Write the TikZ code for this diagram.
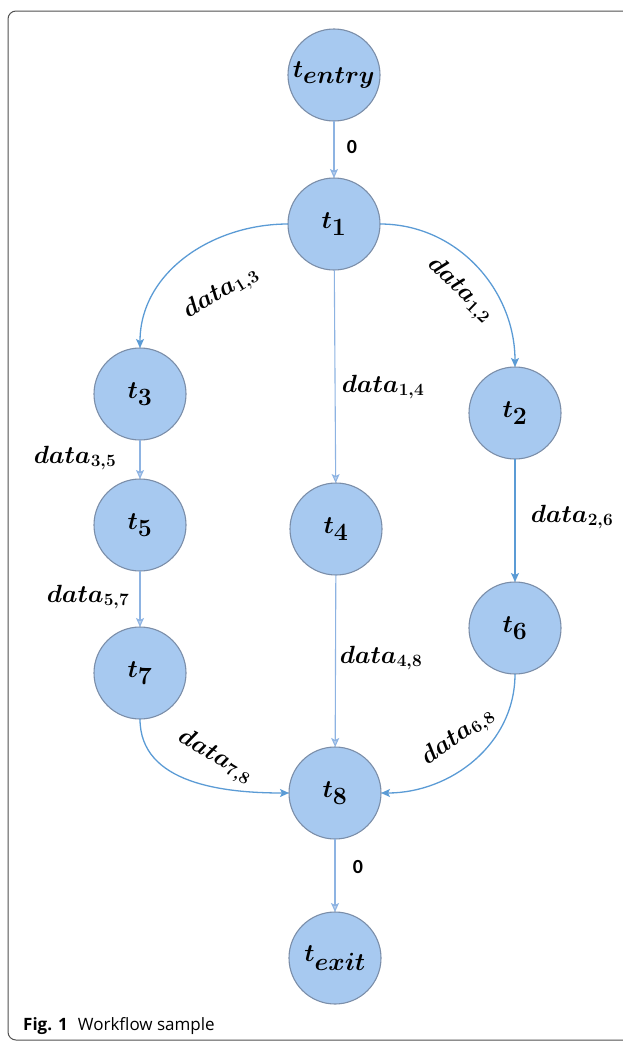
\documentclass[tikz,border=0pt]{standalone}
\usepackage{fontspec}
\newfontfamily\capfont{Open Sans}
\newfontfamily\numfont{Carlito}
\usetikzlibrary{arrows.meta}
\definecolor{nodefill}{HTML}{A7C9F0}
\definecolor{nodeedge}{HTML}{7B8EA9}
\definecolor{edgeblue}{HTML}{5B9BD5}
\definecolor{edgelight}{HTML}{8DB3E2}
\definecolor{framegray}{HTML}{505050}
\tikzset{
  task/.style={circle, fill=nodefill, draw=nodeedge, line width=1.1pt,
    minimum size=92pt, inner sep=0pt, outer sep=0pt,
    font=\fontsize{38}{38}\selectfont\boldmath},
  dlabel/.style={font=\fontsize{23}{23}\selectfont\boldmath, inner sep=0pt},
  zlabel/.style={font=\numfont\bfseries\fontsize{20}{20}\selectfont, inner sep=0pt},
  bluearrow/.style={draw=edgeblue, line width=1.3pt,
    -{Stealth[length=9pt,width=8pt,inset=2pt]}},
  lightarrow/.style={draw=edgelight, line width=1.1pt,
    -{Stealth[length=9pt,width=8pt,inset=2pt,fill=edgelight!60]}},
  frameline/.style={draw=framegray, line width=1pt, rounded corners=8pt}
}
\begin{document}
\begin{tikzpicture}[x=1pt,y=-1pt]
\useasboundingbox (0,0) rectangle (623,1044);
\draw[frameline] (640,11) -- (8,11) -- (8,1040) -- (640,1040);

\node[task] (entry) at (334,75) {$t_{entry}$};
\node[task] (t1) at (334,224) {$t_1$};
\node[task] (t3) at (140,394) {$t_3$};
\node[task] (t5) at (140,525) {$t_5$};
\node[task] (t7) at (140,673) {$t_7$};
\node[task] (t4) at (336,529) {$t_4$};
\node[task] (t2) at (515,413) {$t_2$};
\node[task] (t6) at (515,628) {$t_6$};
\node[task] (t8) at (335,793) {$t_8$};
\node[task] (exit) at (335,958) {$t_{exit}$};

\draw[lightarrow] (entry) -- (t1);
\draw[bluearrow] (t1.west) to[out=180,in=90] (t3.north);
\draw[bluearrow] (t1.east) to[out=0,in=90] (t2.north);
\draw[lightarrow] (t1) -- (t4);
\draw[lightarrow] (t3) -- (t5);
\draw[lightarrow] (t5) -- (t7);
\draw[bluearrow] (t2) -- (t6);
\draw[lightarrow] (t4) -- (t8);
\draw[bluearrow] (t7.south) to[out=-90,in=180] (t8.west);
\draw[bluearrow] (t6.south) to[out=-90,in=0] (t8.east);
\draw[lightarrow] (t8) -- (exit);

\node[zlabel] (z1) at (352,147) {0};
\node[zlabel] (z2) at (358,867) {0};
\node[dlabel, rotate=31] (d13) at (221,293) {$data_{1,3}$};
\node[dlabel, rotate=-44] (d12) at (460,290) {$data_{1,2}$};
\node[dlabel] (d14) at (383,387) {$data_{1,4}$};
\node[dlabel] (d35) at (75,458) {$data_{3,5}$};
\node[dlabel] (d57) at (88,597) {$data_{5,7}$};
\node[dlabel] (d26) at (572,517) {$data_{2,6}$};
\node[dlabel] (d48) at (381,658) {$data_{4,8}$};
\node[dlabel, rotate=-30] (d78) at (215,757) {$data_{7,8}$};
\node[dlabel, rotate=36] (d68) at (458,737) {$data_{6,8}$};

\node[anchor=base west, inner sep=0pt, font=\capfont\fontsize{17}{17}\selectfont]
  (cap) at (23,1030) {\textbf{Fig. 1}\hspace{0.6em}Workflow sample};
\end{tikzpicture}
\end{document}
